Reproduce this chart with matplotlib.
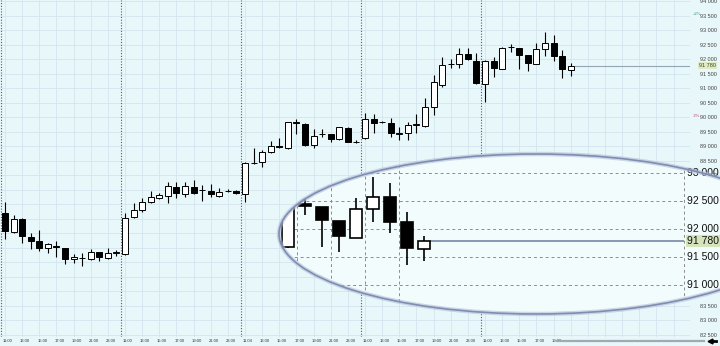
import numpy as np
import matplotlib
matplotlib.use("Agg")
import matplotlib.pyplot as plt
from matplotlib.patches import Ellipse
from matplotlib.lines import Line2D

plt.rcParams["font.family"] = ["Liberation Sans Narrow", "Liberation Sans", "DejaVu Sans"]

# hourly candles
opens = [86710, 86045, 86480, 85860, 85735, 85485, 85575, 85485, 85125, 85150,
         85125, 85345, 85150, 85330, 85285, 86550, 86805, 87070, 87205, 87285,
         87605, 87355, 87605, 87500, 87470, 87295, 87465, 87470, 87355, 88430,
         88450, 88795, 89020, 88930, 89830, 89770, 89045, 89420, 89415, 89240,
         89640, 89150, 89275, 89930, 89830, 89815, 89440, 89450, 89750, 89700,
         90365, 91115, 91830, 91830, 92170, 91950, 91150, 91940, 91680, 92440,
         92385, 92150, 91845, 92350, 92575, 92130, 91640]
highs = [87070, 86630, 86520, 86000, 86115, 85680, 85735, 85485, 85285, 85310,
         85450, 85370, 85485, 85425, 86710, 87055, 87230, 87470, 87380, 87780,
         87780, 87780, 87840, 87665, 87700, 87550, 87520, 87490, 88450, 88930,
         88875, 89195, 89275, 89850, 89940, 89790, 89585, 89585, 89430, 89680,
         89660, 89210, 90140, 90115, 89880, 89965, 89655, 89850, 90100, 90655,
         91460, 92070, 92000, 92380, 92380, 92205, 91980, 92070, 92420, 92530,
         92390, 92150, 92550, 92935, 92825, 92310, 91875]
lows = [85790, 86000, 85680, 85470, 85390, 85310, 85195, 84930, 84965, 84875,
        85080, 85055, 85130, 85230, 85250, 86530, 86745, 87035, 87175, 87035,
        87205, 87265, 87360, 87125, 87265, 87265, 87420, 87360, 87090, 88400,
        88275, 88760, 88950, 88895, 89415, 89000, 88930, 89330, 89140, 89220,
        89140, 89120, 89250, 89450, 89790, 89310, 89220, 89220, 89450, 89680,
        90080, 91055, 91690, 91690, 91980, 91150, 90540, 91400, 91660, 92245,
        91675, 91585, 91845, 92130, 91935, 91355, 91430]
closes = [86090, 86480, 85910, 85750, 85505, 85620, 85530, 85125, 85175, 85160,
          85365, 85195, 85310, 85345, 86540, 86805, 87090, 87240, 87320, 87630,
          87400, 87630, 87380, 87495, 87345, 87435, 87470, 87380, 88415, 88440,
          88795, 89020, 88965, 89830, 89795, 89035, 89355, 89415, 89260, 89655,
          89160, 89160, 89940, 89815, 89830, 89450, 89450, 89735, 89760, 90345,
          91230, 91805, 91840, 92170, 92000, 91175, 91950, 91690, 92405, 92410,
          92160, 91875, 92350, 92575, 92130, 91655, 91780]

hour_labels = ["11:00", "13:00", "15:00", "17:00", "19:00", "21:00", "23:00"]
day_labels = [hour_labels, hour_labels, ["11.04"] + hour_labels[1:],
              hour_labels, hour_labels[:5]]
day_breaks = [13.5, 27.5, 41.5, 55.5]
last_price = 91780
main_levels = list(range(82500, 94001, 500))
# price labels that sit under the ellipse are not visible
hidden_levels = list(range(84000, 87501, 500))
zoom_levels = [91000, 91500, 92000, 92500, 93000]
zoom_vlines = [58.5, 60.5, 62.5, 64.5]
pct_marks = [("+2%", 93560, "#3a9a7a"), ("-2%", 90045, "#b0407a"), ("-4%", 88150, "#b0407a")]


def fmt(v):
    return f"{v:,}".replace(",", " ")


W, H = 720, 346
BG = "#e8f7fa"
fig = plt.figure(figsize=(7.2, 3.46), dpi=100)
fig.patch.set_facecolor(BG)


def px_axes(x0, y0, x1, y1):
    return fig.add_axes([x0 / W, 1 - y1 / H, (x1 - x0) / W, (y1 - y0) / H])


def draw_candles(a, body_lw, wick_lw):
    x = np.arange(len(opens))
    o = np.array(opens)
    c = np.array(closes)
    up = c >= o
    w = a.vlines(x, lows, highs, color="black", lw=wick_lw, zorder=3)
    b = a.bar(x, np.abs(c - o), bottom=np.minimum(o, c), width=0.7,
              color=np.where(up, "white", "black"), edgecolor="black",
              linewidth=body_lw, zorder=4)
    return [w] + list(b.patches)


# main chart
ax = px_axes(0, 0, 690, 337)
ax.set_facecolor(BG)
x_lo, x_hi = -0.583, 79.92
ax.set_xlim(x_lo, x_hi)
ax.set_ylim(82425, 94045)
for s in ax.spines.values():
    s.set_visible(False)

ax.hlines(main_levels, x_lo, x_hi, color="#d4e5ed", lw=0.6, zorder=1)
ax.vlines(np.arange(0, 80, 2), 82425, 94045, color="#d4e5ed", lw=0.6, zorder=1)
ax.vlines(day_breaks + [-0.52], 82425, 94045, color="#4a5a88", lw=0.8,
          linestyles=(0, (1, 1.5)), zorder=2)

draw_candles(ax, 0.7, 0.8)
ax.hlines(last_price, 66.35, x_hi, color="#95a5b8", lw=0.8, zorder=2)

tick_pos, tick_txt = [], []
for d, labs in enumerate(day_labels):
    for k, lab in enumerate(labs):
        tick_pos.append(14 * d + 2 * k + 0.35)
        tick_txt.append(lab)
ax.set_xticks(tick_pos, tick_txt)
ax.tick_params(axis="x", length=0, pad=1.2, labelsize=3.0, labelcolor="#333333")

shown = [v for v in main_levels if v not in hidden_levels]
ax.yaxis.tick_right()
ax.set_yticks(shown, [fmt(v) for v in shown])
ax.tick_params(axis="y", length=0, pad=7, labelsize=4.0, labelcolor="#444444")
ax.text(1.013, last_price, fmt(last_price), transform=ax.get_yaxis_transform(),
        ha="left", va="center", fontsize=4.0, color="#404a20",
        bbox=dict(facecolor="#dfe9c4", edgecolor="none", pad=0.6))
for txt, p, col in pct_marks:
    ax.text(80.3, p, txt, fontsize=3.0, color=col, ha="left", va="center", clip_on=False)

# scroll bar at the bottom right
fig.add_artist(Line2D([557 / W, 704 / W], [1 - 340.5 / H] * 2, color="#a0aab4", lw=1.6))
fig.add_artist(Line2D([710 / W], [1 - 341 / H], marker="<", ms=3.5, color="black", lw=0))
fig.add_artist(Line2D([711 / W, 716 / W], [1 - 341 / H] * 2, color="black", lw=2))

# zoomed view in the ellipse
ax_in = px_axes(279, 154, 720, 314)
ax_in.set_xlim(57.47, 83.41)
ax_in.set_ylim(90482, 93339)
ax_in.axis("off")
ax_in.patch.set_visible(False)

ell_kw = dict(xy=(0.5828, 0.5), width=1.1655, height=1.0,
              transform=ax_in.transAxes, clip_on=False)
ell = Ellipse(facecolor="#f2fcfd", edgecolor="none", zorder=0, **ell_kw)
ax_in.add_patch(ell)
ax_in.add_patch(Ellipse(fill=False, edgecolor="#b4bfd8", lw=3.2, alpha=0.6, zorder=9, **ell_kw))
ax_in.add_patch(Ellipse(fill=False, edgecolor="#7f8db2", lw=1.2, zorder=10, **ell_kw))

arts = []
arts.append(ax_in.hlines(zoom_levels, 57.0, 81.3, color="#8c8c8c", lw=0.7,
                         linestyles=(0, (3, 3)), zorder=1))
arts.append(ax_in.vlines(zoom_vlines + [81.3], 90400, 93400, color="#8c8c8c", lw=0.7,
                         linestyles=(0, (3, 3)), zorder=1))
arts += draw_candles(ax_in, 1.2, 1.2)
arts.append(ax_in.hlines(last_price, 66.35, 81.3, color="#8090b0", lw=1.3, zorder=2))
for v in zoom_levels:
    arts.append(ax_in.text(81.45, v, fmt(v), fontsize=7.5, color="#111111",
                           ha="left", va="center", clip_on=True))
arts.append(ax_in.text(81.45, last_price, fmt(last_price), fontsize=7.5, color="#111111",
                       ha="left", va="center", clip_on=True,
                       bbox=dict(facecolor="#d5e4bb", edgecolor="none", pad=0.8)))
for a in arts:
    a.set_clip_path(ell)

fig.savefig("out.png", dpi=100, facecolor=BG)
